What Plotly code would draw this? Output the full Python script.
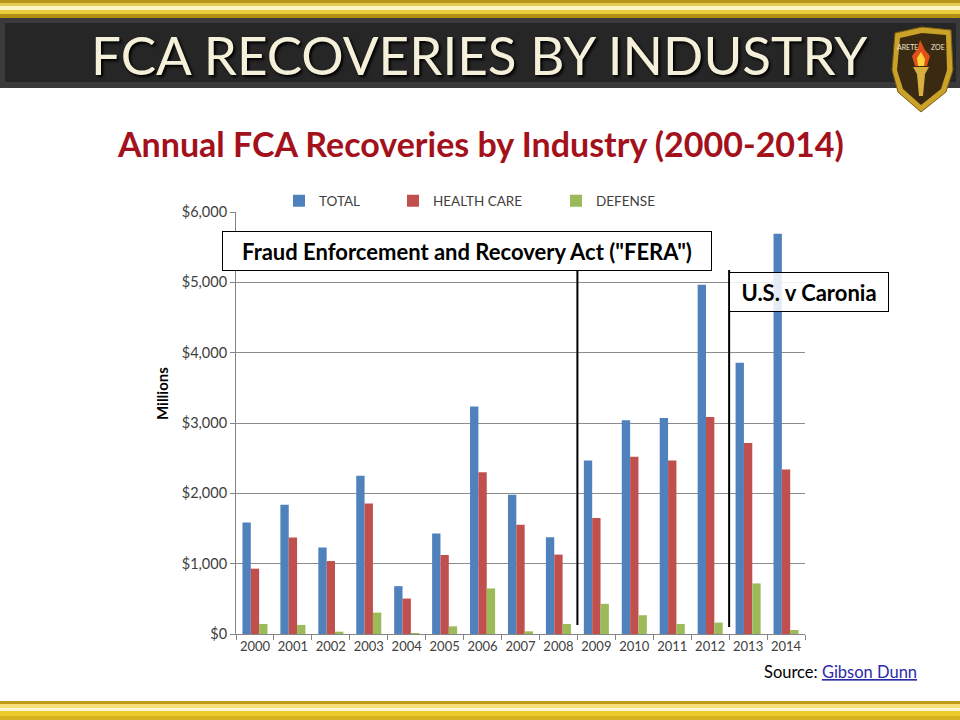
import plotly.graph_objects as go

years = [str(y) for y in range(2000, 2015)]
total = [1586, 1837, 1229, 2251, 680, 1429, 3233, 1981, 1376, 2467, 3038, 3071, 4967, 3857, 5690]
health_care = [929, 1371, 1037, 1857, 504, 1123, 2300, 1552, 1129, 1648, 2519, 2467, 3086, 2714, 2338]
defense = [143, 129, 33, 304, 14, 109, 648, 38, 143, 429, 267, 143, 162, 719, 57]
series_names = ["TOTAL", "HEALTH CARE", "DEFENSE"]
series_colors = ["#4F81BD", "#C0504D", "#9BBB59"]
y_ticks = [0, 1000, 2000, 3000, 4000, 5000, 6000]

W, H = 960, 720
L, R, T, B = 236, 805, 212, 634
PW, PH = R - L, B - T


def px(x):
    return (x - L) / PW


def py(y):
    return (B - y) / PH


fig = go.Figure()
for i, (name, vals, col) in enumerate(zip(series_names, [total, health_care, defense], series_colors)):
    fig.add_trace(go.Bar(x=years, y=vals, name=name, marker=dict(color=col, line=dict(width=0)),
                         legend="legend" if i == 0 else f"legend{i+1}", showlegend=True))

shapes = []


def rect(x0, y0, x1, y1, color, layer="below"):
    shapes.append(dict(type="rect", xref="paper", yref="paper", x0=px(x0), x1=px(x1),
                       y0=py(y1), y1=py(y0), fillcolor=color, line=dict(width=0), layer=layer))


# top gold strip
for (a, b, c) in [(0, 3, "#B8961A"), (3, 6, "#E3C854"), (6, 10, "#FFF6C4"), (10, 14, "#EACB3C"), (14, 18, "#B48D12")]:
    rect(0, a, W, b, c)
# bottom gold strip
for (a, b, c) in [(701, 704, "#C29A1A"), (704, 708, "#F6E07A"), (708, 711, "#FFF8D2"), (711, 716, "#EECB2C"), (716, 720, "#D8B21E")]:
    rect(0, a, W, b, c)
# dark header band
rect(0, 18, W, 88, "#3A3A3A")
rect(5, 23, W - 4, 82, "#262626")


def path(points):
    s = "M " + " L ".join(f"{px(x):.5f},{py(y):.5f}" for x, y in points) + " Z"
    return s


# shield logo
shapes.append(dict(type="path", xref="paper", yref="paper", layer="above",
                   path=path([(895, 33), (922, 27), (951, 30), (953, 70), (946, 92), (921, 112), (898, 92), (892, 70)]),
                   fillcolor="#C9A227", line=dict(color="#7A5A10", width=1)))
shapes.append(dict(type="path", xref="paper", yref="paper", layer="above",
                   path=path([(900, 38), (922, 33), (946, 35), (947, 70), (941, 89), (921, 105), (903, 89), (897, 70)]),
                   fillcolor="#3B2A12", line=dict(width=0)))
shapes.append(dict(type="path", xref="paper", yref="paper", layer="above",
                   path=path([(915, 66), (912, 56), (918, 48), (920, 40), (925, 50), (930, 56), (927, 66)]),
                   fillcolor="#E0501A", line=dict(width=0)))
shapes.append(dict(type="path", xref="paper", yref="paper", layer="above",
                   path=path([(918, 66), (917, 58), (921, 52), (925, 59), (924, 66)]),
                   fillcolor="#FFD23A", line=dict(width=0)))
shapes.append(dict(type="path", xref="paper", yref="paper", layer="above",
                   path=path([(913, 67), (929, 67), (925, 74), (923, 96), (919, 96), (917, 74)]),
                   fillcolor="#D9B040", line=dict(width=0)))

# annotation lines
shapes.append(dict(type="line", xref="x", yref="paper", x0=8.5, x1=8.5, y0=py(625), y1=py(270),
                   line=dict(color="black", width=2)))
shapes.append(dict(type="line", xref="x", yref="paper", x0=12.5, x1=12.5, y0=py(627), y1=py(270),
                   line=dict(color="black", width=2)))

C = dict(xref="paper", yref="paper", showarrow=False, xanchor="center", yanchor="middle")
annotations = [
    dict(text="FCA RECOVERIES BY INDUSTRY", x=px(479), y=py(54),
         font=dict(family="Lato, sans-serif", size=53, color="#F5F0DA",
                   shadow="2px 2px 3px #000000"), **C),
    dict(text="ARETE", x=px(907), y=py(47), font=dict(family="Lato", size=7, color="#F0E8D0"), **C),
    dict(text="ZOE", x=px(938), y=py(47), font=dict(family="Lato", size=7, color="#F0E8D0"), **C),
    dict(text="<b>Annual FCA Recoveries by Industry (2000-2014)</b>", x=px(480), y=py(143),
         font=dict(family="Lato, sans-serif", size=34, color="#A3121C"), **C),
    dict(text="<b>Millions</b>", x=px(162), y=py(394), textangle=-90,
         font=dict(family="Lato, sans-serif", size=15, color="#000000"), **C),
    dict(text="<b>Fraud Enforcement and Recovery Act (\"FERA\")</b>",
         x=px(466.5), y=py(251), width=480, height=30, borderpad=4,
         bordercolor="#000000", borderwidth=1, bgcolor="#FFFFFF", align="center",
         font=dict(family="Lato, sans-serif", size=22, color="#000000"), **C),
    dict(text="<b>U.S. v Caronia</b>",
         x=px(808.5), y=py(292), width=150, height=30, borderpad=4,
         bordercolor="#000000", borderwidth=1, bgcolor="rgba(255,255,255,0.85)", align="center",
         font=dict(family="Lato, sans-serif", size=22, color="#000000"), **C),
    dict(text="Source: <a href=\"https://www.gibsondunn.com\" style=\"color:#2B2BA8\"><u>Gibson Dunn</u></a>",
         xref="paper", yref="paper", x=px(762), y=py(672), xanchor="left", yanchor="middle", showarrow=False,
         font=dict(family="Lato, sans-serif", size=16.5, color="#000000")),
]

legend_common = dict(orientation="h", yanchor="middle", xanchor="left", bgcolor="rgba(0,0,0,0)",
                     font=dict(family="Lato, sans-serif", size=13.5, color="#404040"), itemclick=False)

fig.update_layout(
    width=W, height=H, autosize=False, showlegend=True,
    margin=dict(l=L, r=W - R, t=T, b=H - B, pad=0),
    paper_bgcolor="white", plot_bgcolor="white",
    barmode="group", bargap=0.34, bargroupgap=0,
    font=dict(family="Lato, sans-serif", color="#404040"),
    legend=dict(x=px(279), y=py(201), **legend_common),
    legend2=dict(x=px(393), y=py(201), **legend_common),
    legend3=dict(x=px(556), y=py(201), **legend_common),
    xaxis=dict(type="category", tickson="boundaries", ticks="outside", ticklen=5, tickcolor="#868686",
               showline=True, linecolor="#868686", linewidth=1, showgrid=False, tickangle=0,
               tickfont=dict(family="Lato, sans-serif", size=13, color="#404040"), fixedrange=True),
    yaxis=dict(range=[0, 6000], tickvals=y_ticks, tickformat="$,", ticks="outside", ticklen=5,
               tickcolor="#868686", showline=True, linecolor="#868686", linewidth=1,
               showgrid=True, gridcolor="#8C8C8C", gridwidth=1, zeroline=False,
               tickfont=dict(family="Lato, sans-serif", size=14.5, color="#404040"), fixedrange=True),
    shapes=shapes, annotations=annotations,
)

fig.write_html("out.html", config={"displayModeBar": False},
               post_script="document.body.style.margin='0';document.body.style.overflow='hidden';")
